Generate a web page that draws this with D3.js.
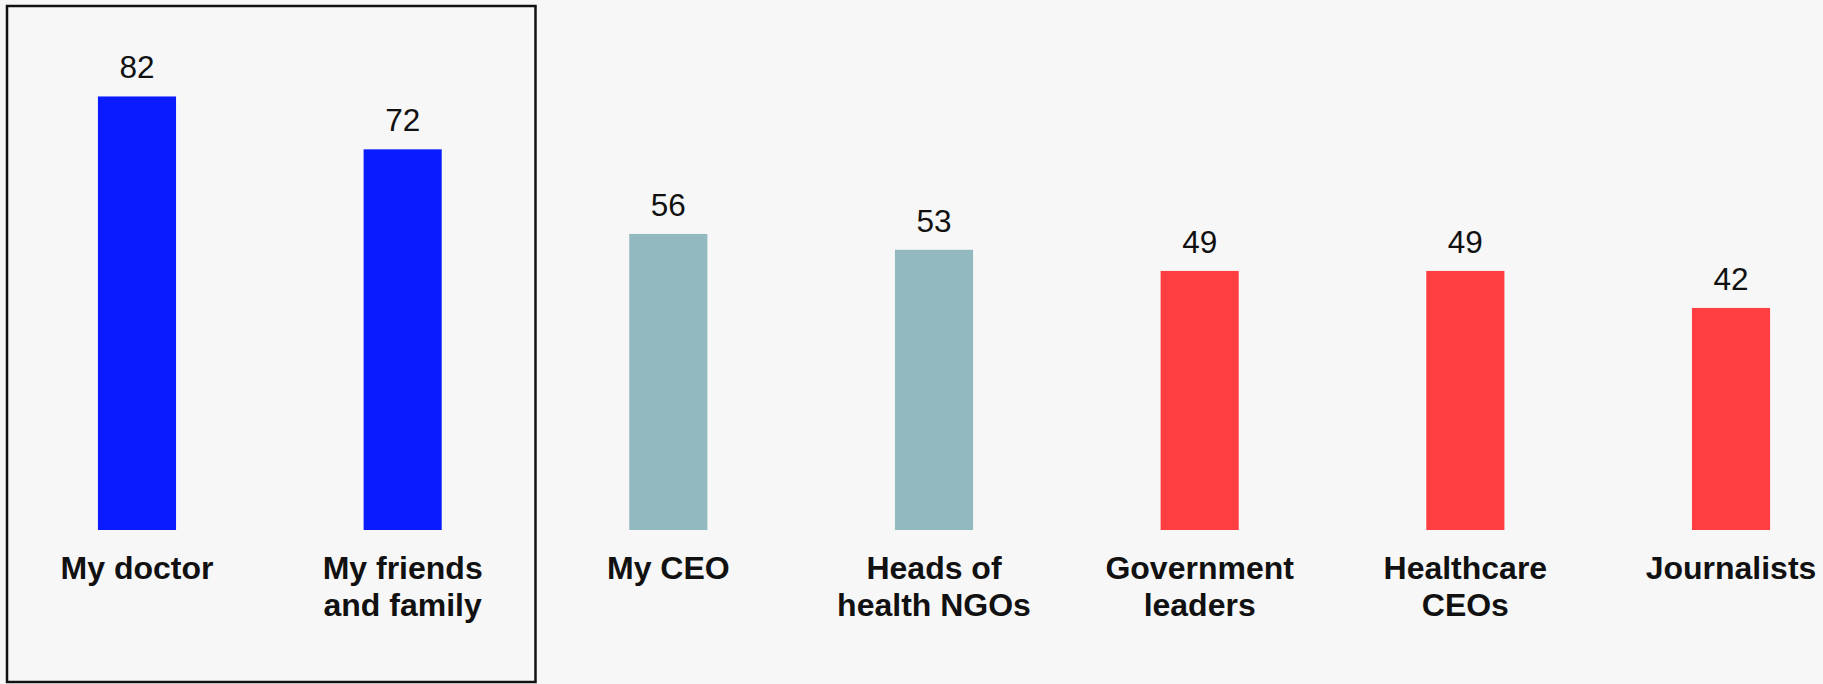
<!DOCTYPE html>
<html>
<head>
<meta charset="utf-8">
<script src="https://cdn.jsdelivr.net/npm/d3@7"></script>
<style>
  html, body { margin: 0; padding: 0; background: #f7f7f7; }
  svg { display: block; }
  text { font-family: "Liberation Sans", Arial, Helvetica, sans-serif; fill: #111; }
</style>
</head>
<body>
<svg id="chart"></svg>
<script>
// Trust by source (%)
const categories = [
  ["My doctor"],
  ["My friends", "and family"],
  ["My CEO"],
  ["Heads of", "health NGOs"],
  ["Government", "leaders"],
  ["Healthcare", "CEOs"],
  ["Journalists"]
];
const values = [82, 72, 56, 53, 49, 49, 42];
const groups = ["personal", "personal", "org", "org", "public", "public", "public"];
const groupColors = { personal: "#0a1cff", org: "#93b9c0", public: "#ff3e41" };

const W = 1823, H = 684;
const svg = d3.select("#chart").attr("width", W).attr("height", H);

svg.append("rect").attr("width", W).attr("height", H).attr("fill", "#f7f7f7");

const x = d3.scaleBand()
  .domain(d3.range(values.length))
  .range([4.15, 1863.85])
  .paddingInner(0.706)
  .paddingOuter(0.353);

const y = d3.scaleLinear().domain([0, 100]).range([530, 530 - 528.7]);

// Frame around the two personal sources
const frameRight = x(1) + x.bandwidth() + (x.step() - x.bandwidth()) / 2;
svg.append("rect")
  .attr("x", 7)
  .attr("y", 6)
  .attr("width", frameRight - 7)
  .attr("height", 676)
  .attr("fill", "none")
  .attr("stroke", "#111")
  .attr("stroke-width", 2.5);

const g = svg.append("g");

g.selectAll("rect.bar")
  .data(values)
  .join("rect")
  .attr("class", "bar")
  .attr("x", (d, i) => x(i))
  .attr("y", d => y(d))
  .attr("width", x.bandwidth())
  .attr("height", d => y(0) - y(d))
  .attr("fill", (d, i) => groupColors[groups[i]]);

g.selectAll("text.val")
  .data(values)
  .join("text")
  .attr("class", "val")
  .attr("x", (d, i) => x(i) + x.bandwidth() / 2)
  .attr("y", d => y(d) - 18)
  .attr("text-anchor", "middle")
  .style("font-size", "31.5px")
  .text(d => d);

const labels = g.selectAll("text.cat")
  .data(categories)
  .join("text")
  .attr("class", "cat")
  .attr("x", (d, i) => x(i) + x.bandwidth() / 2)
  .attr("y", 579)
  .attr("text-anchor", "middle")
  .style("font-size", "32px")
  .style("font-weight", "bold");

labels.selectAll("tspan")
  .data((d, i) => d.map(line => ({ line, i })))
  .join("tspan")
  .attr("x", d => x(d.i) + x.bandwidth() / 2)
  .attr("dy", (d, j) => j === 0 ? 0 : 37)
  .text(d => d.line);
</script>
</body>
</html>
